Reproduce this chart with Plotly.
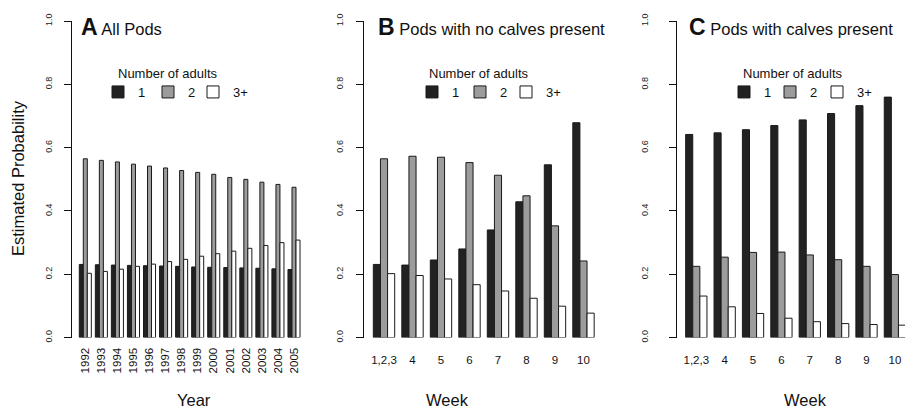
import plotly.graph_objects as go

# ---------------- data ----------------
years = ['1992', '1993', '1994', '1995', '1996', '1997', '1998',
         '1999', '2000', '2001', '2002', '2003', '2004', '2005']
a_one = [0.231, 0.230, 0.229, 0.228, 0.227, 0.226, 0.225,
         0.223, 0.222, 0.221, 0.220, 0.219, 0.217, 0.215]
a_two = [0.565, 0.560, 0.555, 0.548, 0.542, 0.536, 0.528,
         0.522, 0.516, 0.506, 0.500, 0.491, 0.484, 0.475]
a_three = [0.203, 0.209, 0.216, 0.225, 0.232, 0.240, 0.247,
           0.257, 0.265, 0.273, 0.282, 0.291, 0.300, 0.308]

weeks = ['1,2,3', '4', '5', '6', '7', '8', '9', '10']
b_one = [0.231, 0.229, 0.245, 0.280, 0.340, 0.429, 0.546, 0.679]
b_two = [0.565, 0.573, 0.570, 0.553, 0.513, 0.448, 0.353, 0.242]
b_three = [0.202, 0.196, 0.185, 0.167, 0.147, 0.124, 0.099, 0.077]

c_one = [0.642, 0.647, 0.657, 0.670, 0.688, 0.708, 0.733, 0.760]
c_two = [0.225, 0.254, 0.269, 0.270, 0.261, 0.246, 0.225, 0.199]
c_three = [0.131, 0.097, 0.076, 0.061, 0.050, 0.044, 0.041, 0.039]

series_names = ['1', '2', '3+']
y_ticks = [0.0, 0.2, 0.4, 0.6, 0.8, 1.0]

# ---------------- styling ----------------
W, H = 905, 411
FONT = 'Liberation Sans, Arial, Helvetica, sans-serif'
fills = ['#222222', '#9c9c9c', '#ffffff']
edge = '#1a1a1a'


def px_x(p):
    return p / W


def px_y(p):
    return 1 - p / H


fig = go.Figure()

# legend anchor (x of legend box, px) for each panel / series
legend_x = [[98, 148, 193], [412, 460, 506], [724, 770, 817]]

panels = [
    (years, [a_one, a_two, a_three], 'x', 'y'),
    (weeks, [b_one, b_two, b_three], 'x2', 'y2'),
    (weeks, [c_one, c_two, c_three], 'x3', 'y3'),
]
leg_base = dict(orientation='h', xanchor='left', yanchor='top', xref='paper', yref='paper',
                font=dict(size=13, color='#111111'), bgcolor='rgba(0,0,0,0)',
                itemclick=False, itemdoubleclick=False, tracegroupgap=0)
legends = {}
k = 0
for p, (cats, vals, xa, ya) in enumerate(panels):
    for s, (name, v, col) in enumerate(zip(series_names, vals, fills)):
        k += 1
        lid = 'legend' if k == 1 else 'legend%d' % k
        legends[lid] = dict(leg_base, x=px_x(legend_x[p][s]), y=px_y(77))
        fig.add_trace(go.Bar(
            x=cats, y=v, name=name, xaxis=xa, yaxis=ya, legend=lid,
            marker=dict(color=col, line=dict(color=edge, width=1)),
            hoverinfo='skip'))

y0, y1 = px_y(337.5), px_y(21.2)

yax = dict(range=[0, 1], domain=[y0, y1], tickvals=y_ticks, tickformat='.1f',
           showline=True, linecolor='#111111', linewidth=1,
           ticks='outside', ticklen=7, tickcolor='#111111', tickwidth=1,
           tickangle=-90, tickfont=dict(size=9, color='#222222', family=FONT),
           showgrid=False, zeroline=False, fixedrange=True, automargin=False)

xbase = dict(type='category', showline=False, ticks='', showgrid=False,
             zeroline=False, fixedrange=True, automargin=False)

fig.update_layout(
    width=W, height=H,
    margin=dict(l=0, r=0, t=0, b=0, autoexpand=False),
    paper_bgcolor='white', plot_bgcolor='white',
    font=dict(family=FONT, color='#111111'),
    barmode='group', bargap=0.25, bargroupgap=0,
    xaxis=dict(xbase, domain=[px_x(71.5), px_x(307)], range=[-0.86, 13.81],
               anchor='y', tickangle=-90, ticklabelstandoff=7,
               tickfont=dict(size=11.5, color='#111111')),
    yaxis=dict(yax, anchor='x', ticklabelstandoff=8),
    xaxis2=dict(xbase, domain=[px_x(364), px_x(604)], range=[-0.702, 7.72],
                anchor='y2', tickangle=0, ticklabelstandoff=14,
                tickfont=dict(size=11.5, color='#111111')),
    yaxis2=dict(yax, anchor='x2', ticklabelstandoff=9),
    xaxis3=dict(xbase, domain=[px_x(676.7), 1.0], range=[-0.691, 7.356],
                anchor='y3', tickangle=0, ticklabelstandoff=14,
                tickfont=dict(size=11.5, color='#111111')),
    yaxis3=dict(yax, anchor='x3', ticklabelstandoff=17),
    showlegend=True,
    **legends,
)

ann = []
titles = [(79, '<b style="font-size:23px">A</b> All Pods'),
          (376, '<b style="font-size:23px">B</b> Pods with no calves present'),
          (687, '<b style="font-size:23px">C</b> Pods with calves present')]
for xp, t in titles:
    ann.append(dict(x=px_x(xp), y=px_y(27), xref='paper', yref='paper',
                    xanchor='left', yanchor='middle', showarrow=False, text=t,
                    font=dict(size=16.5, color='#111111')))
for xp in [167, 479, 792]:
    ann.append(dict(x=px_x(xp), y=px_y(73), xref='paper', yref='paper',
                    xanchor='center', yanchor='middle', showarrow=False,
                    text='Number of adults', font=dict(size=13, color='#111111')))
for xp, t in [(194, 'Year'), (447, 'Week'), (805, 'Week')]:
    ann.append(dict(x=px_x(xp), y=px_y(400), xref='paper', yref='paper',
                    xanchor='center', yanchor='middle', showarrow=False, text=t,
                    font=dict(size=16.5, color='#111111')))
ann.append(dict(x=px_x(18), y=px_y(178), xref='paper', yref='paper',
                xanchor='center', yanchor='middle', showarrow=False,
                text='Estimated Probability', textangle=-90,
                font=dict(size=16.5, color='#111111')))
fig.update_layout(annotations=ann)

fig.write_html('out.html',
               config={'displayModeBar': False},
               post_script="document.body.style.margin='0';"
                           "document.body.style.overflow='hidden';")
